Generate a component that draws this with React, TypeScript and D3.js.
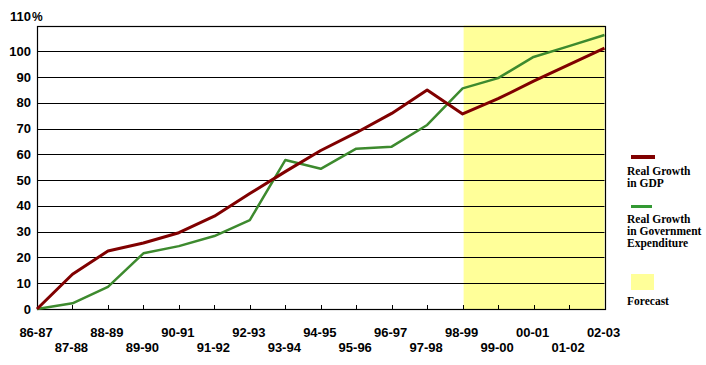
import React from "react";
import * as d3 from "d3";

const categories = ["86-87","87-88","88-89","89-90","90-91","91-92","92-93","93-94","94-95","95-96","96-97","97-98","98-99","99-00","00-01","01-02","02-03"];
const gdp = [0, 13.5, 22.5, 25.6, 29.6, 36, 44.8, 53.3, 61.5, 68.4, 75.9, 85, 75.7, 81.6, 88.4, 94.8, 101.2];
const govExp = [0, 2.2, 8.6, 21.6, 24.4, 28.3, 34.5, 57.8, 54.4, 62.2, 63, 71.4, 85.6, 89.6, 97.8, 102, 106.3];
const yTicks = [0, 10, 20, 30, 40, 50, 60, 70, 80, 90, 100];
const yMax = 110;
const forecastStart = "98-99";
const legendGdp = ["Real Growth", "in GDP"];
const legendGov = ["Real Growth", "in Government", "Expenditure"];
const legendForecast = ["Forecast"];

const W = 706, H = 365;
const left = 37, right = 604.5, top = 25.5, bottom = 309;

export default function App() {
  const x = d3.scalePoint<string>().domain(categories).range([left, right]);
  const y = d3.scaleLinear().domain([0, yMax]).range([bottom, top]);
  const line = d3.line<number>().x((_, i) => x(categories[i])!).y((d) => y(d));
  const px = (v: number) => Math.round(v) + 0.5;
  const axisFont = { fontFamily: "'Liberation Sans', Arial, sans-serif", fontWeight: 700, fontSize: 13 } as const;
  const legFont = { fontFamily: "'Liberation Serif', 'Times New Roman', serif", fontWeight: 700, fontSize: 11.5 } as const;
  const fx = x(forecastStart)! + 1;
  return (
    <svg width={W} height={H} style={{ position: "absolute", left: 0, top: 0, background: "#fff" }}>
      <rect x={fx} y={top} width={right - fx} height={bottom - top} fill="#ffff99" />
      {yTicks.filter((t) => t > 0).map((t) => (
        <line key={t} x1={left} x2={right} y1={px(y(t))} y2={px(y(t))} stroke="#000" strokeWidth={1.2} />
      ))}
      <rect x={px(left)} y={px(y(yMax))} width={Math.round(right) - Math.round(left)} height={Math.round(bottom) - Math.round(y(yMax))} fill="none" stroke="#000" strokeWidth={1.2} />
      {categories.map((c) => (
        <line key={c} x1={px(x(c)!)} x2={px(x(c)!)} y1={bottom} y2={bottom - 4} stroke="#000" strokeWidth={1} />
      ))}
      <path d={line(govExp)!} fill="none" stroke="#3d8a2e" strokeWidth={2.5} strokeLinejoin="round" />
      <path d={line(gdp)!} fill="none" stroke="#800000" strokeWidth={3} strokeLinejoin="round" />
      {yTicks.map((t) => (
        <text key={t} x={31} y={y(t)} dy="0.35em" textAnchor="end" {...axisFont}>{t}</text>
      ))}
      <text x={31} y={21} textAnchor="end" {...axisFont}>{yMax}</text>
      <text x={32} y={21} textAnchor="start" {...axisFont} fontSize={12}>%</text>
      {categories.map((c, i) => (
        <text key={c} x={x(c)! - 1} y={i % 2 === 0 ? 336.5 : 351.5} textAnchor="middle" {...axisFont}>{c}</text>
      ))}
      <rect x={631} y={155} width={24} height={4} fill="#800000" />
      {legendGdp.map((s, i) => (
        <text key={s} x={627} y={174.5 + i * 12} {...legFont}>{s}</text>
      ))}
      <rect x={631} y={205} width={21} height={3} fill="#339933" />
      {legendGov.map((s, i) => (
        <text key={s} x={627} y={222.5 + i * 12} {...legFont}>{s}</text>
      ))}
      <rect x={631} y={274} width={23} height={16} fill="#ffff99" />
      {legendForecast.map((s, i) => (
        <text key={s} x={627} y={304.5 + i * 12} {...legFont}>{s}</text>
      ))}
    </svg>
  );
}
